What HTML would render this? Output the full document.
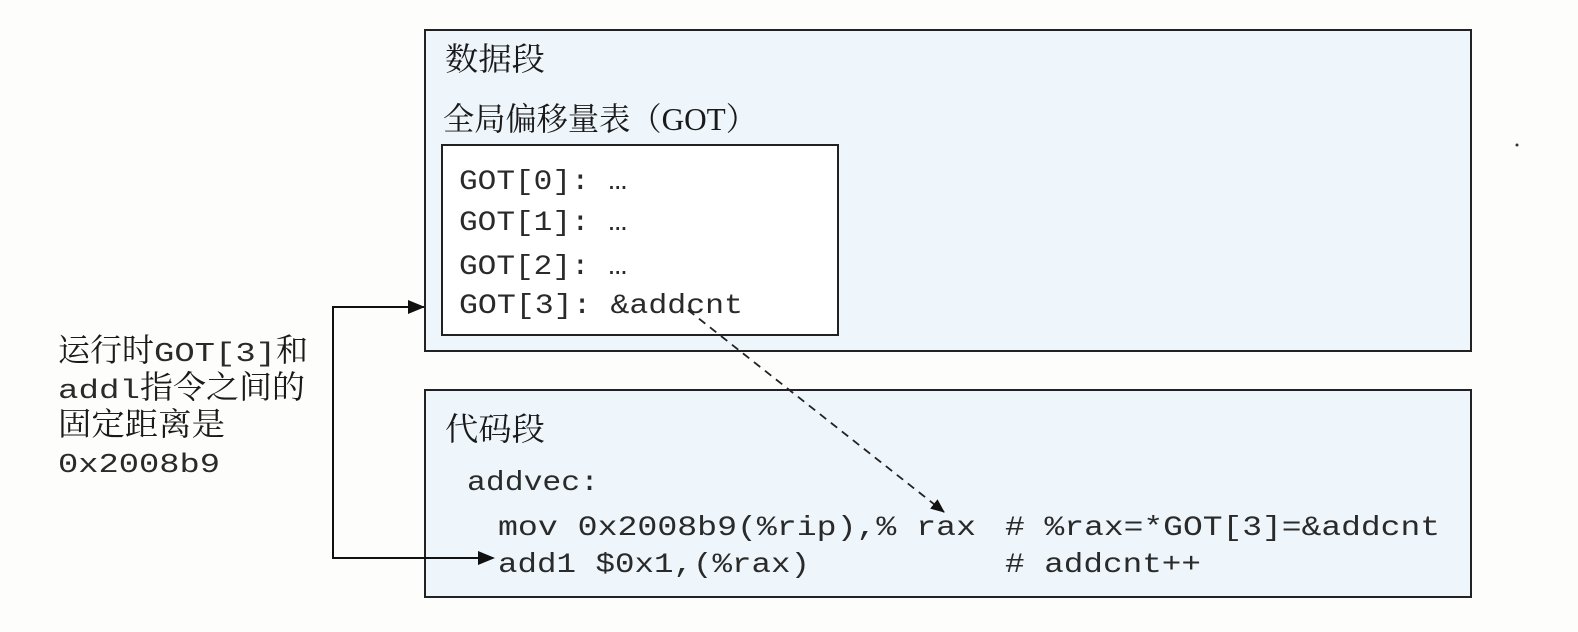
<!DOCTYPE html>
<html><head><meta charset="utf-8"><style>
html,body{margin:0;padding:0;background:#fdfdfb;}
svg{display:block}
.cj{font-family:"Liberation Serif","Noto Serif CJK SC","Noto Sans CJK SC",serif;fill:#1a1a1a}
.m{font-family:"Liberation Mono","DejaVu Sans Mono",monospace;fill:#2a2a2a}
</style></head><body>
<svg width="1578" height="632" viewBox="0 0 1578 632" xmlns="http://www.w3.org/2000/svg">
<defs>
<marker id="b" markerWidth="14" markerHeight="14" refX="13" refY="7" orient="auto" markerUnits="userSpaceOnUse"><path d="M0,1 L14,7 L0,13 z" fill="#111"/></marker>
</defs>
<rect x="0" y="0" width="1578" height="632" fill="#fdfdfb"/>
<rect x="425" y="30" width="1046" height="321" fill="#eef6fb" stroke="#222" stroke-width="2"/>
<text class="cj" x="445" y="70" font-size="32" textLength="100" lengthAdjust="spacingAndGlyphs">数据段</text>
<text class="cj" x="443" y="130" font-size="32" textLength="314" lengthAdjust="spacingAndGlyphs">全局偏移量表（GOT）</text>
<rect x="442" y="145" width="396" height="190" fill="#fff" stroke="#222" stroke-width="2"/>
<text class="m" x="459" y="189" font-size="28" textLength="168" lengthAdjust="spacingAndGlyphs">GOT[0]: …</text>
<text class="m" x="459" y="230" font-size="28" textLength="168" lengthAdjust="spacingAndGlyphs">GOT[1]: …</text>
<text class="m" x="459" y="274" font-size="28" textLength="168" lengthAdjust="spacingAndGlyphs">GOT[2]: …</text>
<text class="m" x="459" y="313" font-size="28" textLength="284" lengthAdjust="spacingAndGlyphs">GOT[3]: &amp;addcnt</text>
<rect x="425" y="390" width="1046" height="207" fill="#eef6fb" stroke="#222" stroke-width="2"/>
<text class="cj" x="445" y="440" font-size="32" textLength="100" lengthAdjust="spacingAndGlyphs">代码段</text>
<text class="m" x="467" y="490" font-size="28" textLength="132" lengthAdjust="spacingAndGlyphs">addvec:</text>
<text class="m" x="498" y="535" font-size="28" textLength="478" lengthAdjust="spacingAndGlyphs">mov 0x2008b9(%rip),% rax</text>
<text class="m" x="1005" y="535" font-size="28" textLength="435" lengthAdjust="spacingAndGlyphs"># %rax=*GOT[3]=&amp;addcnt</text>
<text class="m" x="498" y="572" font-size="28" textLength="312" lengthAdjust="spacingAndGlyphs">add1 $0x1,(%rax)</text>
<text class="m" x="1005" y="572" font-size="28" textLength="196" lengthAdjust="spacingAndGlyphs"># addcnt++</text>
<!-- left label -->
<text x="58" y="361"><tspan class="cj" font-size="32" textLength="96" lengthAdjust="spacingAndGlyphs">运行时</tspan><tspan class="m" font-size="27" textLength="122" lengthAdjust="spacingAndGlyphs">GOT[3]</tspan><tspan class="cj" font-size="32">和</tspan></text>
<text x="58" y="398"><tspan class="m" font-size="27" textLength="82" lengthAdjust="spacingAndGlyphs">addl</tspan><tspan class="cj" font-size="32" textLength="165" lengthAdjust="spacingAndGlyphs">指令之间的</tspan></text>
<text class="cj" x="58" y="435" font-size="32" textLength="167" lengthAdjust="spacingAndGlyphs">固定距离是</text>
<text class="m" x="58" y="472" font-size="27" textLength="162" lengthAdjust="spacingAndGlyphs">0x2008b9</text>
<polyline points="424,307 333,307 333,558 493,558" fill="none" stroke="#111" stroke-width="2"/>
<path d="M408,300 L425,307 L408,314 z" fill="#111"/>
<path d="M478,551 L495,558 L478,565 z" fill="#111"/>
<line x1="688" y1="310" x2="944" y2="512" stroke="#222" stroke-width="1.8" stroke-dasharray="8,6" marker-end="url(#b)"/>
<circle cx="1517" cy="145" r="1.5" fill="#333"/>
</svg>
</body></html>
